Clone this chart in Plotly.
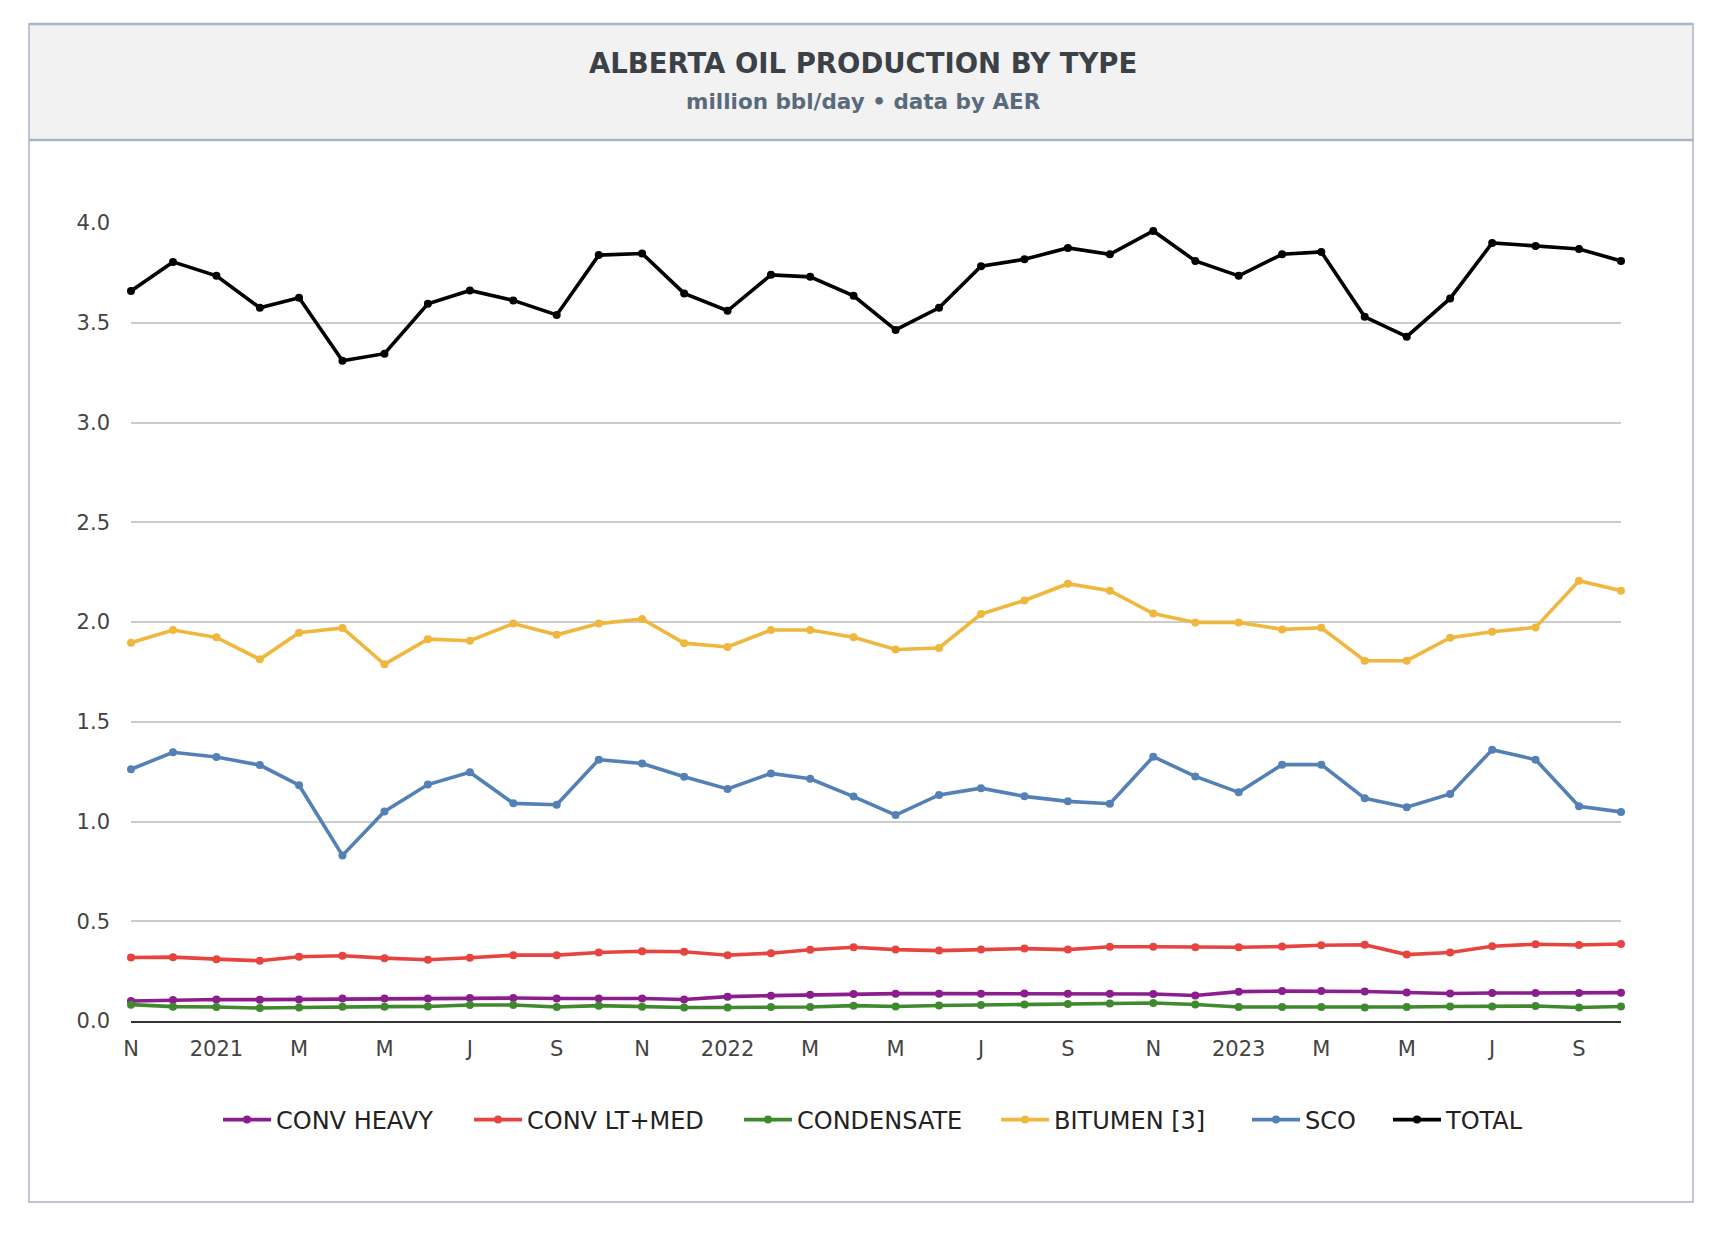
import pandas as pd
import plotly.graph_objects as go

# ---- data (million bbl/day), monthly Nov 2020 .. Oct 2023 ----
months = pd.date_range("2020-11-01", periods=36, freq="MS")

conv_heavy = [0.100, 0.105, 0.108, 0.107, 0.108, 0.113, 0.113, 0.113, 0.115, 0.115,
              0.113, 0.113, 0.113, 0.108, 0.122, 0.127, 0.131, 0.135, 0.137, 0.137,
              0.137, 0.138, 0.137, 0.137, 0.135, 0.128, 0.147, 0.150, 0.150, 0.148,
              0.143, 0.138, 0.140, 0.140, 0.140, 0.142]
conv_lt_med = [0.318, 0.320, 0.310, 0.302, 0.322, 0.327, 0.315, 0.307, 0.317, 0.330,
               0.330, 0.343, 0.350, 0.347, 0.330, 0.340, 0.357, 0.370, 0.358, 0.353,
               0.358, 0.363, 0.358, 0.372, 0.372, 0.370, 0.370, 0.373, 0.380, 0.382,
               0.333, 0.343, 0.375, 0.385, 0.381, 0.386]
condensate = [0.082, 0.072, 0.070, 0.065, 0.068, 0.072, 0.072, 0.073, 0.080, 0.080,
              0.070, 0.077, 0.072, 0.068, 0.068, 0.070, 0.070, 0.077, 0.073, 0.078,
              0.080, 0.083, 0.085, 0.088, 0.090, 0.083, 0.070, 0.070, 0.070, 0.068,
              0.070, 0.073, 0.073, 0.075, 0.068, 0.073]
bitumen = [1.896, 1.960, 1.923, 1.813, 1.946, 1.970, 1.788, 1.914, 1.906, 1.992,
           1.936, 1.992, 2.015, 1.894, 1.875, 1.960, 1.960, 1.924, 1.862, 1.870,
           2.040, 2.108, 2.192, 2.157, 2.042, 1.998, 1.998, 1.963, 1.971, 1.806,
           1.806, 1.921, 1.951, 1.973, 2.207, 2.157]
sco = [1.262, 1.347, 1.323, 1.283, 1.182, 0.830, 1.050, 1.185, 1.247, 1.091,
       1.084, 1.310, 1.291, 1.224, 1.163, 1.241, 1.214, 1.125, 1.032, 1.133,
       1.167, 1.126, 1.101, 1.089, 1.325, 1.226, 1.146, 1.285, 1.285, 1.116,
       1.072, 1.138, 1.360, 1.310, 1.076, 1.048]
total = [3.659, 3.805, 3.735, 3.575, 3.625, 3.309, 3.345, 3.595, 3.662, 3.612,
         3.539, 3.839, 3.847, 3.647, 3.560, 3.740, 3.730, 3.635, 3.464, 3.575,
         3.783, 3.818, 3.875, 3.843, 3.960, 3.810, 3.735, 3.843, 3.855, 3.530,
         3.430, 3.622, 3.900, 3.885, 3.870, 3.810]

tick_idx = list(range(0, 36, 2))
tick_text = ["N", "2021", "M", "M", "J", "S", "N", "2022", "M", "M", "J", "S",
             "N", "2023", "M", "M", "J", "S"]
y_ticks = [0, 0.5, 1.0, 1.5, 2.0, 2.5, 3.0, 3.5, 4.0]

series_names = ["CONV HEAVY", "CONV LT+MED", "CONDENSATE", "BITUMEN [3]", "SCO", "TOTAL"]
series_values = [conv_heavy, conv_lt_med, condensate, bitumen, sco, total]
series_colors = ["#8c1d8f", "#e8443f", "#3f8a2e", "#f0b73e", "#5481b5", "#000000"]
legend_widths = [188, 207, 194, 188, 78, 80]

# ---- layout geometry (page pixels; figure sits 8px inside the page) ----
OFF = 8
FW, FH = 1710, 1220
L, R, T, B = 131 - OFF, 1621 - OFF, 223 - OFF, 1021 - OFF
PW, PH = R - L, B - T


def px(x):
    return (x - OFF - L) / PW


def py(y):
    return (B - (y - OFF)) / PH


fig = go.Figure()
for name, vals, col, lw in zip(series_names, series_values, series_colors, legend_widths):
    fig.add_trace(go.Scatter(
        x=months, y=vals, name=name, mode="lines+markers",
        line=dict(color=col, width=3.6),
        marker=dict(color=col, size=8),
        cliponaxis=False, legendwidth=lw,
    ))

BX0, BX1, BY0, BY1, HB = 29, 1693, 24, 1202, 140
shapes = [
    dict(type="rect", xref="paper", yref="paper", x0=px(BX0), x1=px(BX1),
         y0=py(HB), y1=py(BY0), fillcolor="#f2f2f2", line=dict(width=0), layer="below"),
    dict(type="rect", xref="paper", yref="paper", x0=px(BX0), x1=px(BX1),
         y0=py(BY1), y1=py(BY0), line=dict(color="#a8b4c3", width=1.5)),
    dict(type="line", xref="paper", yref="paper", x0=px(BX0), x1=px(BX1),
         y0=py(BY0), y1=py(BY0), line=dict(color="#a8b4c3", width=2.5)),
    dict(type="line", xref="paper", yref="paper", x0=px(BX0), x1=px(BX1),
         y0=py(HB), y1=py(HB), line=dict(color="#a8b4c3", width=2.5)),
]

annotations = [
    dict(text="<b>ALBERTA OIL PRODUCTION BY TYPE</b>", xref="paper", yref="paper",
         x=px(863), y=py(63), xanchor="center", yanchor="middle", showarrow=False,
         font=dict(family="DejaVu Sans", size=27.5, color="#3c4148")),
    dict(text="<b>million bbl/day • data by AER</b>", xref="paper", yref="paper",
         x=px(863), y=py(101), xanchor="center", yanchor="middle", showarrow=False,
         font=dict(family="DejaVu Sans", size=21.5, color="#5a6a7d")),
]

fig.update_layout(
    width=FW, height=FH,
    margin=dict(l=L, r=FW - R, t=T, b=FH - B, autoexpand=False),
    paper_bgcolor="white", plot_bgcolor="white",
    shapes=shapes, annotations=annotations,
    showlegend=True,
    legend=dict(orientation="h", x=px(218), xanchor="left", y=py(1120),
                yanchor="middle", font=dict(family="DejaVu Sans", size=24, color="#222"),
                itemwidth=48, tracegroupgap=0),
    xaxis=dict(range=[months[0], months[-1]], tickvals=[months[i] for i in tick_idx],
               ticktext=tick_text, showgrid=False, zeroline=False,
               showline=True, linecolor="#333333", linewidth=2,
               ticks="", ticklabelstandoff=8,
               tickfont=dict(family="DejaVu Sans", size=21, color="#444")),
    yaxis=dict(range=[0, 4.0], tickvals=y_ticks,
               ticktext=[f"{v:.1f}" for v in y_ticks],
               showgrid=True, gridcolor="#cccccc", gridwidth=1.5, zeroline=False,
               showline=False, ticks="", ticklabelstandoff=20,
               tickfont=dict(family="DejaVu Sans", size=21, color="#444")),
)

fig.write_html("out.html")
